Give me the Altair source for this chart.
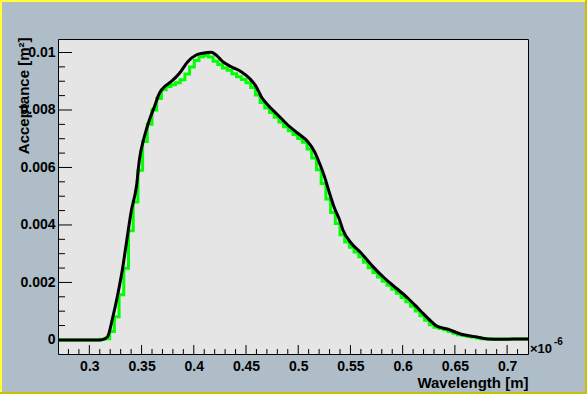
import altair as alt
import pandas as pd
import numpy as np

# ---- histogram (green): 100 bins from 0.27 to 0.72 (x in units of 1e-6 m)
HIST_MIN = 0.27
HIST_MAX = 0.72
N_BINS = 100
hist_values = [
    0, 0, 0, 0, 0, 0, 0, 0, 0, 0.00002,
    0.00004, 0.00029, 0.00081, 0.00157, 0.00249, 0.0038, 0.0048, 0.0059, 0.0069, 0.0075,
    0.0080, 0.0084, 0.0087, 0.00882, 0.00888, 0.00895, 0.00905, 0.00925, 0.0095, 0.00972,
    0.00985, 0.0099, 0.00984, 0.0097, 0.00958, 0.00946, 0.00938, 0.00926, 0.00916, 0.00906,
    0.00895, 0.00878, 0.00852, 0.00826, 0.00807, 0.00791, 0.00775, 0.00758, 0.00742, 0.00728,
    0.00715, 0.00701, 0.00688, 0.00664, 0.00633, 0.00592, 0.00544, 0.0049, 0.00443, 0.00405,
    0.00366, 0.00341, 0.00322, 0.00306, 0.00289, 0.0027, 0.00251, 0.00235, 0.00219, 0.00204,
    0.0019, 0.00176, 0.00162, 0.00148, 0.00133, 0.00117, 0.00101, 0.00084, 0.00068, 0.00053,
    0.00044, 0.0004, 0.00035, 0.00029, 0.00023, 0.00018, 0.00015, 0.00012, 0.0001, 0.00007,
    0.00004, 0.00003, 0.00003, 0.00003, 0.00003, 0.00003, 0.00003, 0.00003, 0.00003, 0.00003,
]

# ---- smooth curve (black)
curve_x = [0.27, 0.3096, 0.3134, 0.3175, 0.3223, 0.3271, 0.3319, 0.3352, 0.3400, 0.3453,
           0.3479, 0.3527, 0.3575, 0.3623, 0.3671, 0.3719, 0.3783, 0.3863, 0.3942, 0.4023,
           0.4086, 0.4166, 0.4214, 0.4278, 0.4358, 0.4454, 0.4533, 0.4598, 0.4646, 0.4709,
           0.4805, 0.4900, 0.4996, 0.5092, 0.5156, 0.5204, 0.5252, 0.5300, 0.5348, 0.5396,
           0.5428, 0.5508, 0.5604, 0.5715, 0.5827, 0.5939, 0.6051, 0.6163, 0.6275, 0.6323,
           0.6434, 0.6562, 0.6690, 0.6817, 0.6945, 0.7168, 0.72]
curve_y = [0, 0, 0.00002, 0.000115, 0.000765, 0.001565, 0.002504, 0.003304, 0.004452, 0.005391,
           0.006261, 0.007071, 0.007652, 0.008115, 0.008581, 0.008810, 0.008984, 0.009277, 0.009680, 0.009913,
           0.009972, 0.010007, 0.009913, 0.009680, 0.009506, 0.009332, 0.009103, 0.008810, 0.008463, 0.008174,
           0.007826, 0.007478, 0.007190, 0.006897, 0.006550, 0.006146, 0.005680, 0.005103, 0.004581, 0.004174,
           0.003826, 0.003363, 0.003016, 0.002550, 0.002146, 0.001798, 0.001450, 0.001043, 0.000637, 0.000487,
           0.000372, 0.000198, 0.000115, 0.000035, 0.000024, 0.000035, 0.000035]

# ---- axis ticks
x_major = [0.3, 0.35, 0.4, 0.45, 0.5, 0.55, 0.6, 0.65, 0.7]
x_minor = [0.28, 0.29, 0.31, 0.32, 0.33, 0.34, 0.36, 0.37, 0.38, 0.39, 0.41, 0.42, 0.43, 0.44,
           0.46, 0.47, 0.48, 0.49, 0.51, 0.52, 0.53, 0.54, 0.56, 0.57, 0.58, 0.59, 0.61, 0.62,
           0.63, 0.64, 0.66, 0.67, 0.68, 0.69, 0.71]
y_major = [0, 0.002, 0.004, 0.006, 0.008, 0.01]
y_minor = [0.0005, 0.001, 0.0015, 0.0025, 0.003, 0.0035, 0.0045, 0.005, 0.0055, 0.0065,
           0.007, 0.0075, 0.0085, 0.009, 0.0095]

X_DOMAIN = [0.27, 0.72]
Y_DOMAIN = [-0.00049, 0.01047]
W, H = 470, 315
FONT = "Liberation Sans"

edges = np.linspace(HIST_MIN, HIST_MAX, N_BINS + 1)
hist_df = pd.DataFrame({"x": edges, "y": hist_values + [hist_values[-1]]})
curve_df = pd.DataFrame({"x": curve_x, "y": curve_y})

xs = alt.Scale(domain=X_DOMAIN, nice=False, zero=False)
ys = alt.Scale(domain=Y_DOMAIN, nice=False, zero=False)

x_axis = alt.Axis(values=x_major, format="~g", ticks=False, domain=False, grid=False,
                  labelFont=FONT, labelFontWeight="bold", labelFontSize=14, labelColor="black",
                  labelPadding=5, labelFlush=False,
                  title="Wavelength [m]", titleFont=FONT, titleFontWeight="bold", titleFontSize=15,
                  titleColor="black", titleAnchor="end", titleAlign="right", titlePadding=2)
y_axis = alt.Axis(values=y_major, format="~g", ticks=False, domain=False, grid=False,
                  labelFont=FONT, labelFontWeight="bold", labelFontSize=14, labelColor="black",
                  labelPadding=3, labelFlush=False,
                  title="Acceptance [m²]", titleFont=FONT, titleFontWeight="bold", titleFontSize=15,
                  titleColor="black", titleAngle=270, titleAlign="right", titleBaseline="middle",
                  titleX=-35, titleY=-2)

green = alt.Chart(hist_df).mark_line(interpolate="step-after", color="#00ff00", strokeWidth=3,
                                     clip=True).encode(
    x=alt.X("x:Q", scale=xs, axis=x_axis),
    y=alt.Y("y:Q", scale=ys, axis=y_axis),
)
black = alt.Chart(curve_df).mark_line(interpolate="monotone", color="black", strokeWidth=3,
                                      clip=True).encode(
    x=alt.X("x:Q", scale=xs),
    y=alt.Y("y:Q", scale=ys),
)

ymaj = alt.Chart(pd.DataFrame({"v": y_major})).mark_rule(color="black", strokeWidth=1).encode(
    y=alt.Y("v:Q", scale=ys), x=alt.value(0), x2=alt.value(14))
ymin = alt.Chart(pd.DataFrame({"v": y_minor})).mark_rule(color="black", strokeWidth=1).encode(
    y=alt.Y("v:Q", scale=ys), x=alt.value(0), x2=alt.value(7))
xmaj = alt.Chart(pd.DataFrame({"v": x_major})).mark_rule(color="black", strokeWidth=1).encode(
    x=alt.X("v:Q", scale=xs), y=alt.value(H), y2=alt.value(H - 9))
xmin = alt.Chart(pd.DataFrame({"v": x_minor})).mark_rule(color="black", strokeWidth=1).encode(
    x=alt.X("v:Q", scale=xs), y=alt.value(H), y2=alt.value(H - 5))

exp_text = alt.Chart(pd.DataFrame({"t": ["×10"]})).mark_text(
    font=FONT, fontSize=13, fontWeight="bold", align="left", baseline="alphabetic", color="black"
).encode(text="t:N", x=alt.value(W + 2), y=alt.value(H - 1))
exp_sup = alt.Chart(pd.DataFrame({"t": ["-6"]})).mark_text(
    font=FONT, fontSize=10, fontWeight="bold", align="left", baseline="alphabetic", color="black"
).encode(text="t:N", x=alt.value(W + 26), y=alt.value(H - 9))

# canvas border (ROOT style bevel)
PL, PT, PR, PB = 58, 39, 59, 40
def border(x1, x2, y1, y2, color):
    return alt.Chart(pd.DataFrame({"a": [0]})).mark_rect(color=color).encode(
        x=alt.value(x1), x2=alt.value(x2), y=alt.value(y1), y2=alt.value(y2))

b_top = border(-PL, W + PR, -PT, -PT + 2, "#ffff33")
b_left = border(-PL, -PL + 2, -PT, H + PB, "#ffff33")
b_bottom = border(-PL, W + PR, H + PB - 2, H + PB, "#c8c000")
b_right = border(W + PR - 2, W + PR, -PT, H + PB, "#c8c000")

chart = alt.layer(green, black, ymaj, ymin, xmaj, xmin, exp_text, exp_sup,
                  b_top, b_left, b_bottom, b_right).properties(
    width=W, height=H,
    padding={"left": PL, "top": PT, "right": PR, "bottom": PB},
    autosize=alt.AutoSizeParams(type="none"),
    background="#aebdc7",
).configure_view(fill="#e5e5e5", stroke="black", strokeWidth=1)

chart.save("out.html", embed_options={"renderer": "svg", "actions": False})
